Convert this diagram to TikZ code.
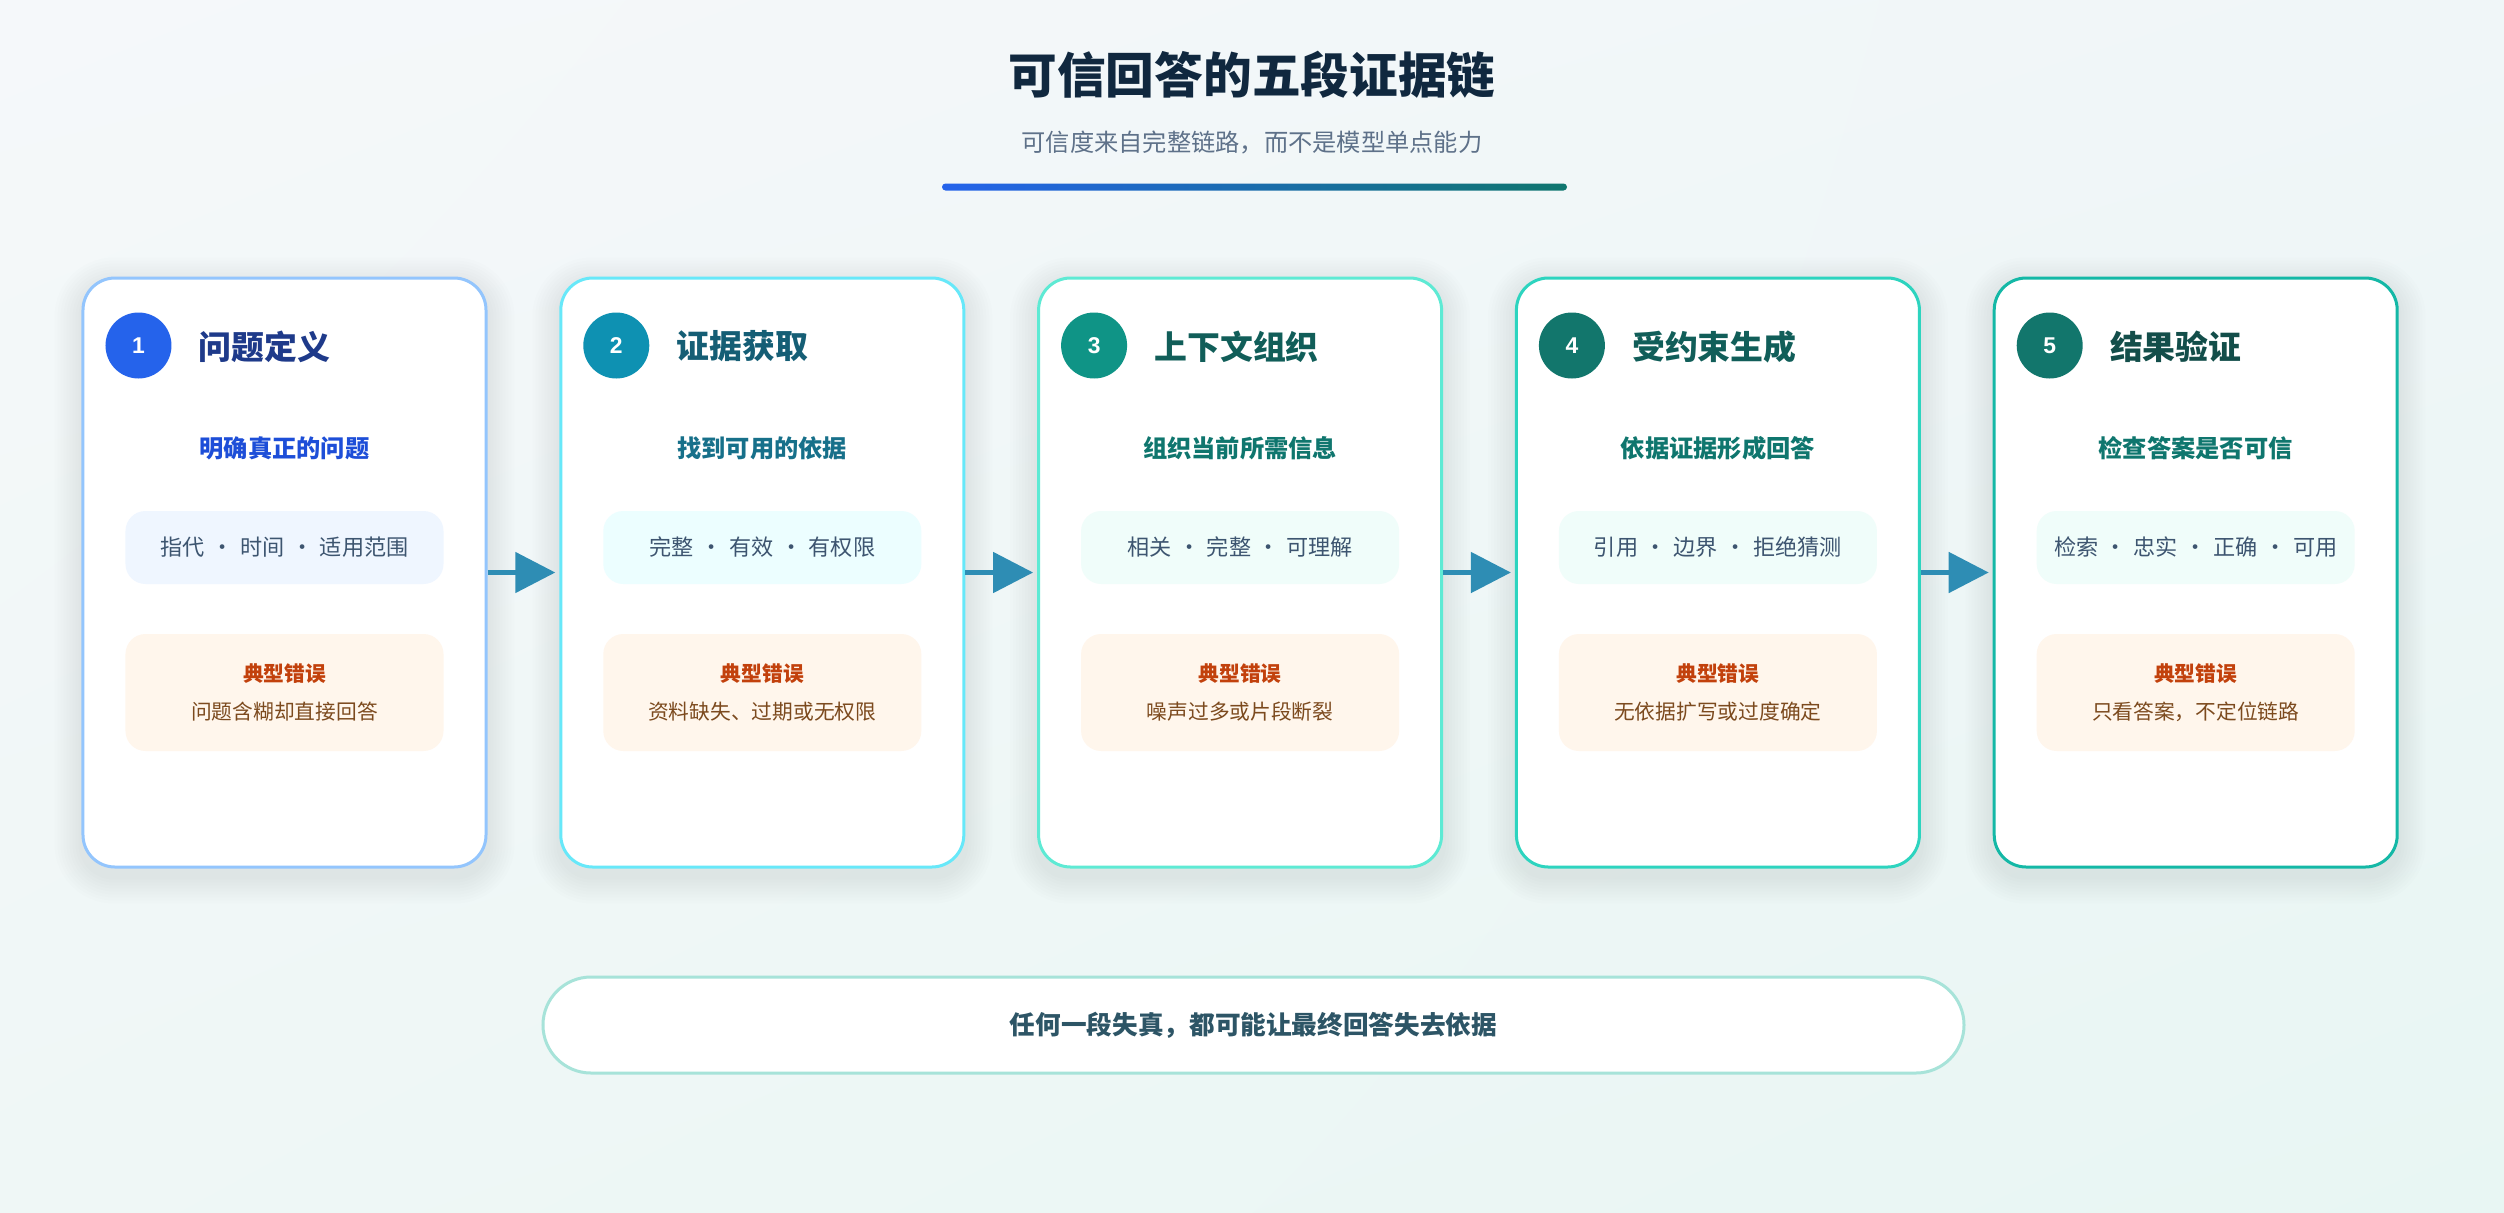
\documentclass[tikz,border=0pt]{standalone}
\usepackage{fontspec}
\setmainfont{Noto Sans CJK SC}
\newfontfamily\numfont{Liberation Sans}
\usetikzlibrary{positioning,calc,arrows.meta,shadings,backgrounds}

\definecolor{bgA}{HTML}{F5F8FA}
\definecolor{bgB}{HTML}{F0F6F8}
\definecolor{bgC}{HTML}{EFF7F6}
\definecolor{bgD}{HTML}{E8F6F3}
\definecolor{titlecol}{HTML}{10283F}
\definecolor{subtcol}{HTML}{5E7189}
\definecolor{barA}{HTML}{2563EB}
\definecolor{barB}{HTML}{0F766E}
\definecolor{tagtext}{HTML}{3D5570}
\definecolor{errfill}{HTML}{FFF6EC}
\definecolor{errhead}{HTML}{C2410C}
\definecolor{errtext}{HTML}{7C4A1E}
\definecolor{flowcol}{HTML}{2E8DB4}
\definecolor{notebd}{HTML}{A7E3D9}
\definecolor{notetext}{HTML}{2D5566}
\definecolor{shadowcol}{HTML}{1E3A5F}
% per card colours
\definecolor{bd1}{HTML}{93C5FD}\definecolor{dot1}{HTML}{2563EB}\definecolor{hd1}{HTML}{1E3A8A}\definecolor{sb1}{HTML}{1D4ED8}\definecolor{pl1}{HTML}{EFF6FF}
\definecolor{bd2}{HTML}{67E8F9}\definecolor{dot2}{HTML}{0E91B2}\definecolor{hd2}{HTML}{155E75}\definecolor{sb2}{HTML}{17708A}\definecolor{pl2}{HTML}{ECFEFF}
\definecolor{bd3}{HTML}{5EEAD4}\definecolor{dot3}{HTML}{0F9486}\definecolor{hd3}{HTML}{115E59}\definecolor{sb3}{HTML}{0F766E}\definecolor{pl3}{HTML}{F0FDFA}
\definecolor{bd4}{HTML}{2DD4BF}\definecolor{dot4}{HTML}{12766C}\definecolor{hd4}{HTML}{115E59}\definecolor{sb4}{HTML}{0F766E}\definecolor{pl4}{HTML}{F0FDFA}
\definecolor{bd5}{HTML}{14B8A6}\definecolor{dot5}{HTML}{12766C}\definecolor{hd5}{HTML}{134E4A}\definecolor{sb5}{HTML}{0F766E}\definecolor{pl5}{HTML}{F0FDFA}

\newcommand\setfs[1]{\fontsize{#1}{#1}\selectfont}
\newcommand\dotsep{\hspace{0.3em}·\hspace{0.3em}}

\begin{document}
\begin{tikzpicture}[x=0.2mm,y=-0.2mm,
  every node/.style={inner sep=0pt,align=center},
  card/.style={draw=#1,line width=0.6mm,fill=white,rounded corners=6.4mm,
    minimum width=80.6mm,minimum height=117.8mm},
  softshadow/.style={fill=shadowcol,opacity=0.009},
  badge/.style={circle,fill=#1,minimum size=13.2mm,text=white,font=\numfont\bfseries\setfs{13}},
  headline/.style={anchor=west,text=#1,font=\bfseries\setfs{18.7}},
  subline/.style={text=#1,font=\bfseries\setfs{13.8}},
  tagbox/.style={fill=#1,rounded corners=4mm,minimum width=63.6mm,minimum height=14.6mm,
    text=tagtext,font=\setfs{12.6}},
  errbox/.style={fill=errfill,rounded corners=4mm,minimum width=63.6mm,minimum height=23.4mm},
  flow/.style={draw=flowcol,line width=1mm,shorten >=0.8mm,-{Triangle[length=8mm,width=8mm]}},
  note/.style={draw=notebd,line width=0.6mm,fill=white,rounded corners=9.6mm,
    minimum width=284.2mm,minimum height=19.2mm,text=notetext,font=\bfseries\setfs{14.6}}
  ]
  \useasboundingbox (0,0) rectangle (2504,1212);
  \begin{scope}[on background layer]
    \shade[upper left=bgA,upper right=bgB,lower left=bgC,lower right=bgD] (0,0) rectangle (2504,1212);
  \end{scope}

  % title block
  \node[text=titlecol,font=\bfseries\setfs{27.7}] (title) at (1252,75) {可信回答的五段证据链};
  \node[text=subtcol,font=\setfs{13.8}] (subtitle) at (1252,142) {可信度来自完整链路，而不是模型单点能力};
  \shade[left color=barA,right color=barB,rounded corners=0.7mm] (942,183.5) rectangle (1567,190.5);

  % the five cards
  \foreach \i/\head/\sub/\tags/\err in {
    1/问题定义/明确真正的问题/{指代\dotsep 时间\dotsep 适用范围}/问题含糊却直接回答,
    2/证据获取/找到可用的依据/{完整\dotsep 有效\dotsep 有权限}/{资料缺失、过期或无权限},
    3/上下文组织/组织当前所需信息/{相关\dotsep 完整\dotsep 可理解}/噪声过多或片段断裂,
    4/受约束生成/依据证据形成回答/{引用\dotsep 边界\dotsep 拒绝猜测}/无依据扩写或过度确定,
    5/结果验证/检查答案是否可信/{检索\dotsep 忠实\dotsep 正确\dotsep 可用}/{只看答案，不定位链路}}{
    \pgfmathsetmacro\cx{284.5+477.8*(\i-1)}
    \node[card=bd\i] (card\i) at (\cx,572.5) {};
    \begin{scope}[on background layer]
      \foreach \g in {1,...,9}
        \fill[softshadow,rounded corners=6.4mm+0.6*\g mm]
          ($(card\i.north west)+(-3*\g,8-3*\g)$) rectangle ($(card\i.south east)+(3*\g,8+3*\g)$);
    \end{scope}
    \node[badge=dot\i] (num\i) at ($(card\i.north west)+(57,69)$) {\i};
    \node[headline=hd\i] (head\i) at ($(card\i.north west)+(117,70)$) {\head};
    \node[subline=sb\i] (sub\i) at ($(card\i.north)+(0,172)$) {\sub};
    \node[tagbox=pl\i] (tags\i) at ($(card\i.north)+(0,271)$) {\tags};
    \node[errbox] (err\i) at ($(card\i.north)+(0,416)$) {};
    \node[text=errhead,font=\bfseries\setfs{11.8}] (errtitle\i) at ($(card\i.north)+(0,397)$) {典型错误};
    \node[text=errtext,font=\setfs{11.8}] (errtext\i) at ($(card\i.north)+(0,435)$) {\err};
  }

  % arrows between stages
  \foreach \i [evaluate=\i as \j using int(\i+1)] in {1,...,4}
    \draw[flow] (card\i.east) -- (card\j.west);

  \node[note] (note) at (1253.5,1025) {任何一段失真，都可能让最终回答失去依据};
\end{tikzpicture}
\end{document}
